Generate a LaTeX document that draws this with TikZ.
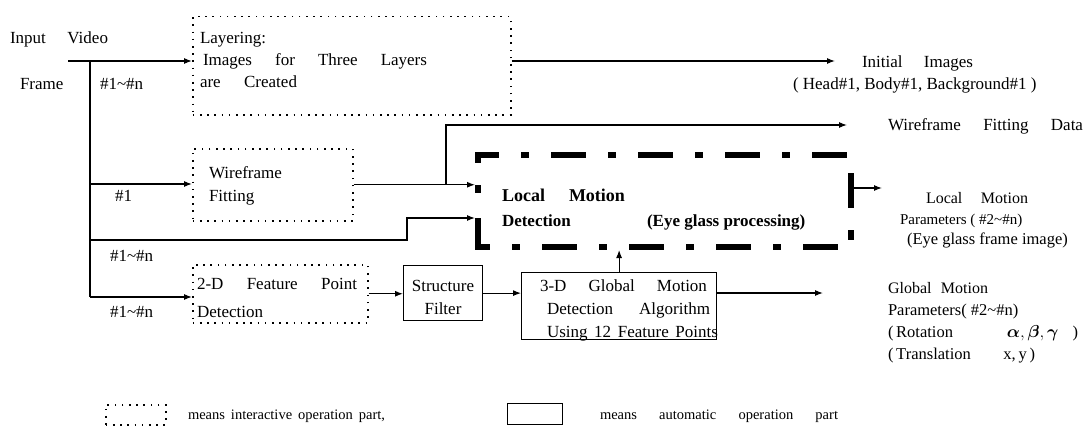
\documentclass[tikz,border=0pt]{standalone}
\usepackage{amsmath}
\usepackage{bm}
\usepackage{fontspec}
\setmainfont{Liberation Serif}
\usetikzlibrary{arrows.meta}
\newcommand{\spr}[2]{\makebox[#1pt][s]{#2}}
\newcommand{\tld}{\textasciitilde}
\begin{document}
\begin{tikzpicture}[x=1pt,y=-1pt,
  txt/.style={inner sep=0pt,outer sep=0pt,anchor=base west,font=\fontsize{17}{20}\selectfont},
  btxt/.style={txt,font=\fontsize{17}{20}\selectfont\bfseries},
  dotbox/.style={draw,line width=1.5pt,dash pattern=on 1.6pt off 5.6pt,inner sep=0pt,anchor=north west},
  solbox/.style={draw,line width=1.2pt,inner sep=0pt,anchor=north west},
  ln/.style={line width=1.1pt},
  arr/.style={ln,-{Latex[length=8pt,width=6pt]}},
  lmline/.style={line width=6pt}]
\path[use as bounding box] (0,0) rectangle (1085,436);

% boxes
\node[dotbox,minimum width=318,minimum height=98] (layer) at (192,16) {};
\node[dotbox,minimum width=160,minimum height=72] (wf) at (192,148) {};
\node[dotbox,minimum width=175,minimum height=58] (fp) at (192,264) {};
\node[solbox,minimum width=79,minimum height=55] (sf) at (403,265) {};
\node[solbox,minimum width=195,minimum height=67] (gm) at (521,272) {};
\node[inner sep=0pt,outer sep=3pt,minimum width=373,minimum height=92,anchor=north west] (lm) at (475,152) {};

% local motion dash-dot frame
\draw[lmline,dash pattern=on 35pt off 22pt on 8pt off 22pt,dash phase=11pt]
  ([yshift=-3pt]lm.north west) -- ([yshift=-3pt]lm.north east);
\draw[lmline,dash pattern=on 11pt off 22pt on 8pt off 25pt on 60pt]
  ([xshift=3pt]lm.north west) -- ([xshift=3pt]lm.south west);
\draw[lmline,dash pattern=on 35pt off 22pt on 10pt off 100pt,dash phase=146pt]
  ([xshift=-3pt]lm.north east) -- ([xshift=-3pt]lm.south east);
\draw[lmline,dash pattern=on 35pt off 22pt on 8pt off 22pt,dash phase=20pt]
  ([yshift=3pt]lm.south west) -- ([yshift=3pt]lm.south east);

% coordinates
\coordinate (in) at (68,61);
\coordinate (vt) at (90,61);
\coordinate (vb) at (90,297);
\coordinate (v1) at (90,184);
\coordinate (v2) at (90,240);
\coordinate (b1) at (407,240);
\coordinate (b2) at (407,218);
\coordinate (j1) at (446,184);
\coordinate (wfd) at (847,125);
\coordinate (ii) at (835,61);
\coordinate (go) at (823,293);
\coordinate (lo) at (882,188);

% connectors
\draw[arr] (in) -- (in -| layer.west);
\draw[ln] (vt) -- (vb);
\draw[arr] (vb) -- (vb -| fp.west);
\draw[arr] (v1) -- (v1 -| wf.west);
\draw[arr] (v2) -- (b1) -- (b2) -- (b2 -| lm.west);
\draw[arr] (wf.east) -- (wf.east -| lm.west);
\draw[arr] (j1) -- (j1 |- wfd) -- (wfd);
\draw[arr] (ii -| layer.east) -- (ii);
\draw[arr] (fp.east) -- (fp.east -| sf.west);
\draw[arr] (sf.east) -- (sf.east -| gm.west);
\draw[arr] (go -| gm.east) -- (go);
\draw[arr] (gm.north) -- (gm.north |- lm.south);
\draw[arr] (lo -| lm.east) -- (lo);

% texts
\node[txt] (tin) at (10,44) {\spr{98}{Input Video}};
\node[txt] (tfr) at (20,89) {Frame};
\node[txt] (tn1) at (100,89) {\#1\tld\#n};
\node[txt] (tl1) at (200,44) {Layering:};
\node[txt] (tl2) at (203,66) {\spr{224}{Images for Three Layers}};
\node[txt] (tl3) at (200,88) {\spr{97}{are Created}};
\node[txt] (ti1) at (862,68) {\spr{111}{Initial Images}};
\node[txt] (ti2) at (793,89) {( Head\#1, Body\#1, Background\#1 )};
\node[txt] (twd) at (888,131) {\spr{195}{Wireframe Fitting Data}};
\node[txt] (tw1) at (209,178) {Wireframe};
\node[txt] (tw2) at (209,201) {Fitting};
\node[txt] (th1) at (115,201) {\#1};
\node[txt] (tn2) at (110,261) {\#1\tld\#n};
\node[txt] (tn3) at (110,317) {\#1\tld\#n};
\node[txt] (tf1) at (197,289) {\spr{160}{2-D Feature Point}};
\node[txt] (tf2) at (197,317) {Detection};
\node[txt,anchor=base] (ts1) at (443,291) {Structure};
\node[txt,anchor=base] (ts2) at (443,314) {Filter};
\node[txt] (tg1) at (540,291) {\spr{167}{3-D Global Motion}};
\node[txt] (tg2) at (547,314) {\spr{163}{Detection Algorithm}};
\node[txt] (tg3) at (547,337) {\spr{171}{Using 12 Feature Points}};
\node[btxt,font=\fontsize{18}{20}\selectfont\bfseries] (tm1) at (502,201) {\spr{123}{Local Motion}};
\node[btxt] (tm2) at (502,226) {Detection};
\node[btxt] (tm3) at (647,226) {(Eye glass processing)};
\node[txt,font=\fontsize{16}{18}\selectfont] (tp1) at (926,203) {\spr{102}{Local Motion}};
\node[txt,font=\fontsize{15}{18}\selectfont] (tp2) at (900,224) {Parameters ( \#2\tld\#n)};
\node[txt,font=\fontsize{16.5}{18}\selectfont] (tp3) at (907,244) {(Eye glass frame image)};
\node[txt,font=\fontsize{16}{18}\selectfont] (tq1) at (888,293) {\spr{100}{Global Motion}};
\node[txt,font=\fontsize{16.5}{18}\selectfont] (tq2) at (888,315) {Parameters( \#2\tld\#n)};
\node[txt,font=\fontsize{16.5}{18}\selectfont] (tq3) at (888,337) {\spr{190}{(\,Rotation\hfill$\bm{\alpha},\bm{\beta},\bm{\gamma}$\hspace{14pt})}};
\node[txt,font=\fontsize{16.5}{18}\selectfont] (tq4) at (888,359) {\spr{147}{(\,Translation\hfill x,\,y\,)}};

% legend
\node[dotbox,minimum width=60,minimum height=20] (legd) at (105,404) {};
\node[solbox,minimum width=55,minimum height=21] (legs) at (507,403) {};
\node[txt,font=\fontsize{14.5}{16}\selectfont] (tld) at (188,419) {\spr{197}{means interactive operation part,}};
\node[txt,font=\fontsize{14.5}{16}\selectfont] (tls) at (600,419) {\spr{238}{means automatic operation part}};
\end{tikzpicture}
\end{document}
